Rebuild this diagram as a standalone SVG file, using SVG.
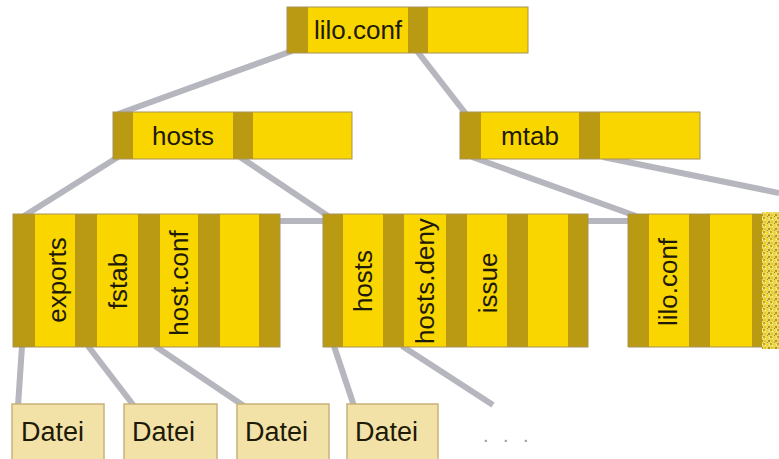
<svg xmlns="http://www.w3.org/2000/svg" width="779" height="459" viewBox="0 0 779 459">
<defs>
<style>
.light{fill:#F9D600}
.dark{fill:#BA9A12}
.frame{fill:none;stroke:#A89258;stroke-width:1}
.lbl{font-family:"Liberation Sans",Arial,sans-serif;font-size:26px;fill:#1e1a08}
.vl{font-family:"Liberation Sans",Arial,sans-serif;font-size:26px;fill:#1e1a08;text-anchor:middle}
.conn{stroke:#B6B6BE;stroke-width:6;fill:none;stroke-linecap:butt}
.file{fill:#F3E2A8;stroke:#C8B27A;stroke-width:1.5}
.fl{font-family:"Liberation Sans",Arial,sans-serif;font-size:27px;fill:#1e1a08}
</style>
<pattern id="noise" width="7" height="7" patternUnits="userSpaceOnUse">
<rect width="7" height="7" fill="#EBD860"/>
<rect x="0" y="0" width="2" height="2" fill="#C8A80A"/>
<rect x="3" y="1" width="2" height="2" fill="#F5D410"/>
<rect x="5" y="4" width="2" height="2" fill="#B39420"/>
<rect x="1" y="4" width="2" height="2" fill="#E8C818"/>
<rect x="4" y="6" width="1" height="1" fill="#A88E20"/>
<rect x="2" y="2" width="1" height="1" fill="#FFF8D8"/>
<rect x="6" y="1" width="1" height="1" fill="#FFF8D8"/>
</pattern>
</defs>
<rect width="779" height="459" fill="#FFFFFF"/>

<g id="connectors">
<line class="conn" x1="292" y1="51" x2="118" y2="114"/>
<line class="conn" x1="417" y1="51" x2="466" y2="114"/>
<line class="conn" x1="118" y1="157" x2="24" y2="216"/>
<line class="conn" x1="240" y1="157" x2="328" y2="216"/>
<line class="conn" x1="472" y1="157" x2="636" y2="216"/>
<line class="conn" x1="603" y1="157" x2="779" y2="193"/>
<line class="conn" x1="270" y1="221" x2="640" y2="221"/>
<line class="conn" x1="22" y1="346" x2="18" y2="406"/>
<line class="conn" x1="88" y1="346" x2="134" y2="406"/>
<line class="conn" x1="155" y1="346" x2="244" y2="406"/>
<line class="conn" x1="334" y1="346" x2="354" y2="406"/>
<line class="conn" x1="402" y1="346" x2="493" y2="405"/>
</g>

<g id="node-root">
<rect class="light" x="287" y="7" width="241" height="46"/>
<rect class="dark" x="287" y="7" width="21" height="46"/>
<rect class="dark" x="408" y="7" width="20" height="46"/>
<rect class="frame" x="287" y="7" width="241" height="46"/>
<text class="lbl" x="358" y="39" text-anchor="middle">lilo.conf</text>
</g>

<g id="node-hosts">
<rect class="light" x="113" y="112" width="239" height="47"/>
<rect class="dark" x="113" y="112" width="20" height="47"/>
<rect class="dark" x="233" y="112" width="20" height="47"/>
<rect class="frame" x="113" y="112" width="239" height="47"/>
<text class="lbl" x="183" y="145" text-anchor="middle">hosts</text>
</g>

<g id="node-mtab">
<rect class="light" x="460" y="112" width="240" height="47"/>
<rect class="dark" x="460" y="112" width="21" height="47"/>
<rect class="dark" x="579" y="112" width="21" height="47"/>
<rect class="frame" x="460" y="112" width="240" height="47"/>
<text class="lbl" x="530" y="145" text-anchor="middle">mtab</text>
</g>

<g id="node-block1">
<rect class="light" x="13" y="214" width="267" height="133"/>
<rect class="dark" x="13" y="214" width="22" height="133"/>
<rect class="dark" x="75" y="214" width="22" height="133"/>
<rect class="dark" x="138" y="214" width="22" height="133"/>
<rect class="dark" x="198" y="214" width="22" height="133"/>
<rect class="dark" x="259" y="214" width="21" height="133"/>
<rect class="frame" x="13" y="214" width="267" height="133"/>
<text class="vl" transform="translate(66,280) rotate(-90)">exports</text>
<text class="vl" transform="translate(127,281) rotate(-90)">fstab</text>
<text class="vl" transform="translate(188,283) rotate(-90)">host.conf</text>
</g>

<g id="node-block2">
<rect class="light" x="323" y="214" width="265" height="133"/>
<rect class="dark" x="323" y="214" width="20" height="133"/>
<rect class="dark" x="383" y="214" width="21" height="133"/>
<rect class="dark" x="446" y="214" width="21" height="133"/>
<rect class="dark" x="507" y="214" width="21" height="133"/>
<rect class="dark" x="568" y="214" width="20" height="133"/>
<rect class="frame" x="323" y="214" width="265" height="133"/>
<text class="vl" transform="translate(372,281) rotate(-90)">hosts</text>
<text class="vl" transform="translate(434,281) rotate(-90)">hosts.deny</text>
<text class="vl" transform="translate(497,283) rotate(-90)">issue</text>
</g>

<g id="node-block3">
<rect class="light" x="628" y="214" width="134" height="133"/>
<rect class="dark" x="628" y="214" width="21" height="133"/>
<rect class="dark" x="689" y="214" width="21" height="133"/>
<rect class="dark" x="752" y="214" width="10" height="133"/>
<path class="frame" d="M762,214 H628 V347 H762"/>
<rect x="762" y="212" width="17" height="137" fill="url(#noise)"/>
<text class="vl" transform="translate(677,282) rotate(-90)">lilo.conf</text>
</g>

<g id="file-1">
<rect class="file" x="12" y="404" width="92" height="70"/>
<text class="fl" x="21" y="441">Datei</text>
</g>
<g id="file-2">
<rect class="file" x="124" y="404" width="93" height="70"/>
<text class="fl" x="132" y="441">Datei</text>
</g>
<g id="file-3">
<rect class="file" x="237" y="404" width="92" height="70"/>
<text class="fl" x="245" y="441">Datei</text>
</g>
<g id="file-4">
<rect class="file" x="347" y="404" width="91" height="70"/>
<text class="fl" x="355" y="441">Datei</text>
</g>
<g id="more">
<text class="lbl" x="483 503 523" y="442" style="fill:#9a9a9a;font-size:20px">...</text>
</g>
</svg>
